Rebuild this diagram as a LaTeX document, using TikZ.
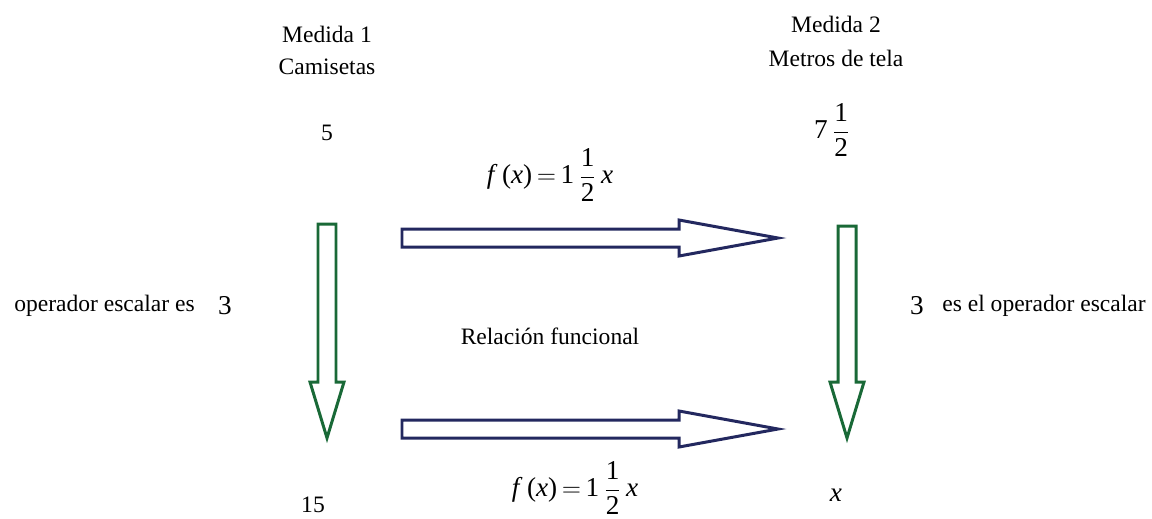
\documentclass[tikz,border=0pt]{standalone}
\usepackage{amsmath}
\usepackage{fontspec}
\setmainfont{Liberation Serif}
\usepackage{tikz}

\definecolor{navyarrow}{RGB}{35,40,95}
\definecolor{greenarrow}{RGB}{25,105,55}

% fracción y función con la letra del texto
\newcommand{\medio}{$\genfrac{}{}{0.5pt}{0}{\text{1}}{\text{2}}$}
\newcommand{\funcion}{\textit{f}\,(\textit{x})\,$=$\,1\,\medio\,\textit{x}}

\begin{document}
\begin{tikzpicture}[x=0.02cm, y=-0.02cm, font=\fontsize{13.4}{16}\selectfont,
    harrow/.style={draw=navyarrow, line width=1.7pt, fill=white, line join=miter},
    varrow/.style={draw=greenarrow, line width=1.7pt, fill=white, line join=miter},
    formula/.style={font=\fontsize{15.5}{18}\selectfont}]
    \useasboundingbox (0,0) rectangle (1152,518);

    % flechas horizontales (relación funcional)
    \foreach \c in {238,429}{
        \draw[harrow] (402,\c-9) -- (679,\c-9) -- (679,\c-18) -- (778,\c)
            -- (679,\c+18) -- (679,\c+9) -- (402,\c+9) -- cycle;
    }

    % flechas verticales (operador escalar)
    \foreach \m/\t in {327/224,847/226}{
        \draw[varrow] (\m-9,\t) -- (\m+9,\t) -- (\m+9,382) -- (\m+17,382)
            -- (\m,438) -- (\m-17,382) -- (\m-9,382) -- cycle;
    }

    % medida 1
    \node (medida1) at (327,34) {Medida 1};
    \node (camisetas) at (327,67) {Camisetas};
    \node (cinco) at (327,133) {5};
    \node (quince) at (313,505) {15};

    % medida 2
    \node (medida2) at (836,24) {Medida 2};
    \node (metros) at (836,58) {Metros de tela};
    \node[formula] (siete) at (832,130) {7\,\medio};
    \node[formula] (equis) at (836,495) {\textit{x}};

    % funciones
    \node[formula] (funcarriba) at (550,175) {\funcion};
    \node[formula] (funcabajo) at (575,488) {\funcion};
    \node (relacion) at (550,336) {Relación funcional};

    % operadores escalares
    \node[anchor=east, inner sep=0pt] (opizq) at (195,306) {operador escalar es};
    \node[formula] (tresizq) at (225,306) {3};
    \node[formula] (tresder) at (917,306) {3};
    \node[anchor=west, inner sep=0pt] (opder) at (942,306) {es el operador escalar};
\end{tikzpicture}
\end{document}
